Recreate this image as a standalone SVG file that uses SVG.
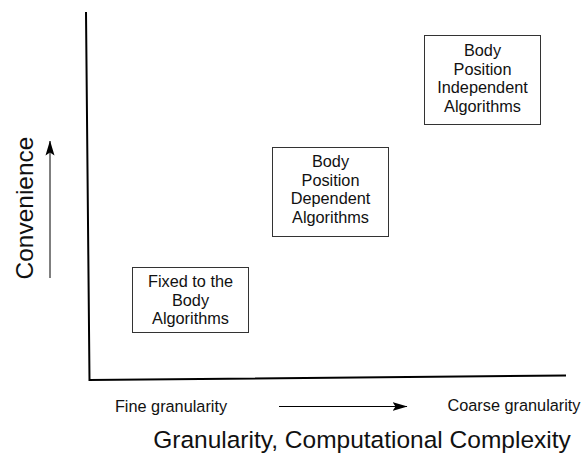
<svg xmlns="http://www.w3.org/2000/svg" width="582" height="454" viewBox="0 0 582 454">
<defs>
<style>
.box{fill:#fff;stroke:#333;stroke-width:1}
.t{font-family:"Liberation Sans",Arial,sans-serif;font-size:16.3px;fill:#111;text-anchor:middle}
.big{font-family:"Liberation Sans",Arial,sans-serif;font-size:24.5px;fill:#111}
.ax{stroke:#000;stroke-width:2;fill:none}
.ar{stroke:#000;stroke-width:1;fill:none}
</style>
<marker id="ah" viewBox="0 0 15 10" refX="14.5" refY="5" markerWidth="15" markerHeight="10" markerUnits="userSpaceOnUse" orient="auto">
<path d="M0,0.5 L15,5 L0,9.5 L3,5 Z" fill="#000"/>
</marker>
</defs>
<rect width="582" height="454" fill="#fff"/>
<g id="connectors">
<path class="ax" d="M86,12 L89.5,380 L566,375.5"/>
<line class="ar" x1="50" y1="278" x2="50" y2="141" marker-end="url(#ah)"/>
<line class="ar" x1="279" y1="406.5" x2="407" y2="406.5" marker-end="url(#ah)"/>
</g>
<g id="n1">
<rect class="box" x="132.5" y="267.5" width="116" height="65"/>
<text class="t" x="190.5" y="287">Fixed to the</text>
<text class="t" x="190.5" y="305.5">Body</text>
<text class="t" x="190.5" y="324">Algorithms</text>
</g>
<g id="n2">
<rect class="box" x="272.5" y="147.5" width="116" height="89"/>
<text class="t" x="330.5" y="167">Body</text>
<text class="t" x="330.5" y="185.5">Position</text>
<text class="t" x="330.5" y="204">Dependent</text>
<text class="t" x="330.5" y="222.5">Algorithms</text>
</g>
<g id="n3">
<rect class="box" x="424.5" y="35.5" width="116" height="89"/>
<text class="t" x="482.5" y="56">Body</text>
<text class="t" x="482.5" y="74.5">Position</text>
<text class="t" x="482.5" y="93">Independent</text>
<text class="t" x="482.5" y="111.5">Algorithms</text>
</g>
<g id="labels">
<text class="big" transform="translate(33,208) rotate(-90)" text-anchor="middle">Convenience</text>
<text class="t" x="171" y="412">Fine granularity</text>
<text class="t" x="514" y="411">Coarse granularity</text>
<text class="big" x="362" y="448" text-anchor="middle">Granularity, Computational Complexity</text>
</g>
</svg>
